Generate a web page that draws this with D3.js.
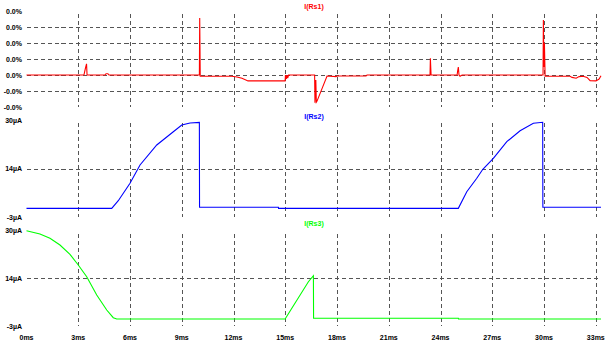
<!DOCTYPE html>
<html lang="en">
    <head>
        <meta charset="UTF-8">
        <title>I(Rs) traces</title>
        <script src="https://d3js.org/d3.v7.min.js"></script>
        <style>
            body { margin: 0; background: #fff; }
            text { font-family: "Liberation Sans", Arial, sans-serif; font-size: 7px; font-weight: bold; }
            .grid { stroke: #555; stroke-width: 1; stroke-dasharray: 4,3; fill: none; shape-rendering: crispEdges; }
            .trace { fill: none; stroke-width: 1.1; }
        </style>
    </head>

    <body>
        <script>
            // time axis (ms)
            const xTicks = [0, 3, 6, 9, 12, 15, 18, 21, 24, 27, 30, 33];
            const xLabels = ["0ms", "3ms", "6ms", "9ms", "12ms", "15ms", "18ms", "21ms", "24ms", "27ms", "30ms", "33ms"];

            // I(Rs1) - units of 0.001 %
            const rs1Ticks = [4, 3, 2, 1, 0, -1, -2];
            const rs1Labels = ["0.0%", "0.0%", "0.0%", "0.0%", "0.0%", "-0.0%", "-0.0%"];
            const rs1Time = [0, 3.33, 3.36, 3.42, 3.48, 3.51, 4.55, 4.61, 4.72, 4.78,
                10.02, 10.04, 10.07, 11.91, 12.2, 12.49, 12.84,
                14.99, 15.01, 15.06, 15.1, 15.14, 15.19,
                16.7, 16.72, 16.77, 16.8, 16.84, 17.42, 17.94, 18.0, 19.68, 19.74,
                23.39, 23.41, 23.45, 24.96, 24.99, 25.03, 25.07, 25.13, 25.25,
                29.94, 29.96, 29.99, 30.02, 30.06, 31.51, 31.62, 31.86, 32.03, 32.26, 32.49, 32.67, 33.01, 33.19, 33.3];
            const rs1Value = [0, 0, 0.15, 0.45, 0.7, 0, 0, 0.08, 0.08, 0,
                0, 3.56, -0.08, -0.08, -0.12, -0.2, -0.37,
                -0.37, 0, -0.25, 0, -0.19, 0,
                0, -1.73, -0.31, -1.7, -1.63, -0.06, -0.1, -0.06, -0.06, 0,
                0, 1.04, 0, 0, 0.25, 0.5, 0, -0.08, 0,
                0, 3.44, 0.5, 2.0, -0.08, -0.08, -0.15, -0.2, -0.1, -0.08, -0.15, -0.35, -0.37, -0.25, -0.05];

            // I(Rs2) - µA
            const rs2Ticks = [30, 13.5, -3];
            const rs2Labels = ["30µA", "14µA", "-3µA"];
            const rs2Time = [0, 4.94, 5.32, 6.0, 6.58, 7.55, 8.51, 9.0, 9.48, 10.02, 10.03, 14.6, 14.61,
                25.03, 25.52, 26.1, 26.45, 27.06, 27.84, 28.61, 29.38, 29.92, 29.93, 33.3];
            const rs2Value = [0.05, 0.05, 2.65, 8.57, 14.8, 21.6, 26.1, 28.4, 29.1, 29.3, 0.4, 0.4, 0.05,
                0.05, 5.71, 10.27, 13.33, 17.07, 22.72, 26.46, 28.98, 29.32, 0.4, 0.4];

            // I(Rs3) - µA
            const rs3Ticks = [30, 13.5, -3];
            const rs3Labels = ["30µA", "14µA", "-3µA"];
            const rs3Time = [0, 0.78, 1.36, 1.94, 2.52, 3.0, 3.49, 4.07, 4.65, 5.03, 5.23, 14.99, 16.34, 16.63, 16.64, 25.03, 25.04, 33.3];
            const rs3Value = [30, 28.86, 27.37, 25.05, 21.83, 18.12, 14.07, 7.73, 2.54, -0.13, -0.6, -0.6, 12.34, 14.42, -0.3, -0.3, -0.6, -0.6];

            const width = 612, height = 343;

            const svg = d3.select("body").append("svg")
                .attr("width", width)
                .attr("height", height);

            const x = d3.scaleLinear()
                .domain([0, 33.3])
                .range([26.5, 601]);

            const panes = [
                {title: "I(Rs1)", color: "#ff0000", ticks: rs1Ticks, labels: rs1Labels,
                 time: rs1Time, value: rs1Value, range: [107, 11], titleY: 9},
                {title: "I(Rs2)", color: "#0000ff", ticks: rs2Ticks, labels: rs2Labels,
                 time: rs2Time, value: rs2Value, range: [217.3, 120.3], titleY: 119},
                {title: "I(Rs3)", color: "#00ff00", ticks: rs3Ticks, labels: rs3Labels,
                 time: rs3Time, value: rs3Value, range: [326, 230.7], titleY: 226}
            ];

            panes.forEach(function(p) {
                const y = d3.scaleLinear()
                    .domain(d3.extent(p.ticks))
                    .range(p.range);

                const g = svg.append("g");

                // horizontal grid, inner ticks only
                g.selectAll(".hgrid")
                    .data(p.ticks.slice(1, -1))
                    .enter()
                        .append("line")
                        .classed("grid", true)
                        .attr("x1", x(0)).attr("x2", x.range()[1])
                        .attr("y1", d => Math.round(y(d)) + 0.5)
                        .attr("y2", d => Math.round(y(d)) + 0.5);

                // vertical grid
                g.selectAll(".vgrid")
                    .data(xTicks.slice(1))
                    .enter()
                        .append("line")
                        .classed("grid", true)
                        .attr("x1", d => Math.round(x(d)) + 0.5)
                        .attr("x2", d => Math.round(x(d)) + 0.5)
                        .attr("y1", p.range[1] + 3)
                        .attr("y2", p.range[0]);

                // y labels
                g.selectAll(".ylab")
                    .data(p.ticks)
                    .enter()
                        .append("text")
                        .attr("x", 22)
                        .attr("y", d => y(d) + 2.5)
                        .attr("text-anchor", "end")
                        .text((d, i) => p.labels[i]);

                // title
                g.append("text")
                    .attr("x", 314)
                    .attr("y", p.titleY)
                    .attr("text-anchor", "middle")
                    .attr("fill", p.color)
                    .text(p.title);

                const line = d3.line()
                    .x(d => x(d[0]))
                    .y(d => y(d[1]));

                g.append("path")
                    .datum(d3.zip(p.time, p.value))
                    .classed("trace", true)
                    .attr("stroke", p.color)
                    .attr("d", line);
            });

            // x labels
            svg.selectAll(".xlab")
                .data(xTicks)
                .enter()
                    .append("text")
                    .attr("x", d => x(d))
                    .attr("y", 339.5)
                    .attr("text-anchor", "middle")
                    .text((d, i) => xLabels[i]);
        </script>
    </body>
</html>
